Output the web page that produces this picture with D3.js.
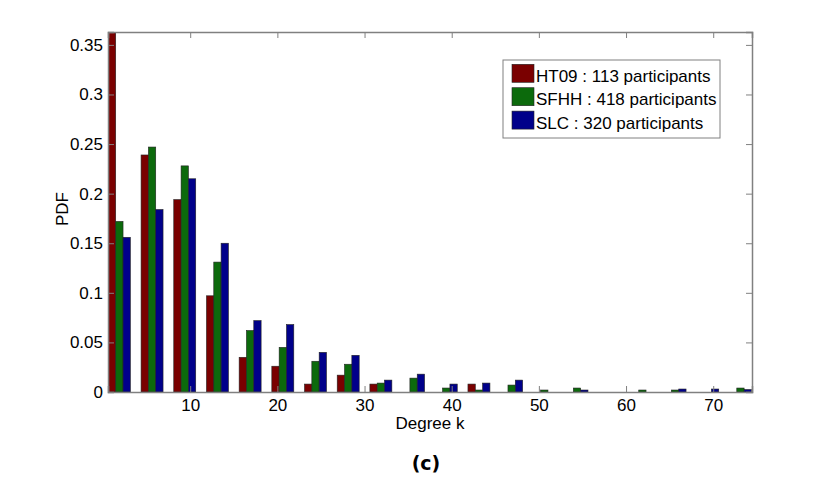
<!DOCTYPE html>
<html>
<head>
<meta charset="utf-8">
<script src="https://cdn.jsdelivr.net/npm/d3@7"></script>
<style>
  body { margin: 0; background: #fff; }
  text { font-family: "Liberation Sans", Arial, sans-serif; }
</style>
</head>
<body>
<div id="chart"></div>
<script>
// bin centres of the degree histogram (20 bins over 0..75)
var binCenters = [1.875, 5.625, 9.375, 13.125, 16.875, 20.625, 24.375, 28.125, 31.875, 35.625,
                  39.375, 43.125, 46.875, 50.625, 54.375, 58.125, 61.875, 65.625, 69.375, 73.125];

var ht09 = [0.37, 0.239, 0.194, 0.097, 0.035, 0.026, 0.008, 0.017, 0.008, 0,
            0, 0.008, 0, 0, 0, 0, 0, 0, 0, 0];
var sfhh = [0.172, 0.247, 0.228, 0.131, 0.062, 0.045, 0.031, 0.028, 0.009, 0.014,
            0.004, 0.002, 0.007, 0.002, 0.004, 0, 0.002, 0.002, 0, 0.004];
var slc  = [0.156, 0.184, 0.215, 0.150, 0.072, 0.068, 0.040, 0.037, 0.012, 0.018,
            0.008, 0.009, 0.012, 0, 0.002, 0, 0, 0.003, 0.003, 0.0025];

var seriesNames = ["HT09 : 113 participants", "SFHH : 418 participants", "SLC : 320 participants"];
var seriesColors = ["#7a0000", "#0c6a0c", "#00008a"];

var xTicks = [10, 20, 30, 40, 50, 60, 70];
var yTicks = [0, 0.05, 0.1, 0.15, 0.2, 0.25, 0.3, 0.35];

var margin = {top: 32, right: 78, bottom: 86, left: 108},
    width = 830 - margin.left - margin.right,
    height = 478 - margin.top - margin.bottom;

var x = d3.scaleLinear().domain([0.57, 74.45]).range([0, width]);
var y = d3.scaleLinear().domain([0, 0.363]).range([height, 0]);

var svg = d3.select("#chart").append("svg")
    .attr("width", 830)
    .attr("height", 478);

var g = svg.append("g")
    .attr("transform", "translate(" + margin.left + "," + margin.top + ")");

g.append("clipPath").attr("id", "plotclip")
  .append("rect").attr("width", width).attr("height", height);

// bars
var barW = 0.84;  // in data units
var series = [ht09, sfhh, slc];
var bars = g.append("g").attr("clip-path", "url(#plotclip)");
series.forEach(function(vals, si) {
  bars.selectAll(".b" + si)
    .data(vals.map(function(v, i) { return {k: binCenters[i], v: v}; }).filter(function(d) { return d.v > 0; }))
    .enter().append("rect")
      .attr("x", function(d) { return x(d.k + (si - 1) * barW - barW / 2); })
      .attr("width", x(barW) - x(0))
      .attr("y", function(d) { return y(d.v); })
      .attr("height", function(d) { return height - y(d.v); })
      .attr("fill", seriesColors[si])
      .attr("stroke", "#222")
      .attr("stroke-width", 0.6);
});

// axes, ticks inward like matlab
var axisColor = "#808080";
var axBottom = g.append("g").attr("transform", "translate(0," + height + ")")
    .call(d3.axisBottom(x).tickValues(xTicks).tickSize(-6).tickPadding(7).tickFormat(d3.format("d")));
var axTop = g.append("g")
    .call(d3.axisTop(x).tickValues(xTicks).tickSize(-6).tickFormat(""));
var axLeft = g.append("g")
    .call(d3.axisLeft(y).tickValues(yTicks).tickSize(-6).tickPadding(5).tickFormat(function(d) { return String(+d.toFixed(2)); }));
var axRight = g.append("g").attr("transform", "translate(" + width + ",0)")
    .call(d3.axisRight(y).tickValues(yTicks).tickSize(-6).tickFormat(""));

[axBottom, axTop, axLeft, axRight].forEach(function(a) {
  a.select(".domain").attr("stroke", axisColor).attr("stroke-width", 1.5);
  a.selectAll(".tick line").attr("stroke", axisColor).attr("stroke-width", 1);
  a.selectAll("text").attr("fill", "#000").style("font-size", "17px")
    .style("font-family", "'Liberation Sans', Arial, sans-serif");
});

// axis labels
svg.append("text")
    .attr("x", 430).attr("y", 429)
    .attr("text-anchor", "middle")
    .style("font-size", "17px")
    .text("Degree k");

svg.append("text")
    .attr("transform", "translate(68,209) rotate(-90)")
    .attr("text-anchor", "middle")
    .style("font-size", "17px")
    .text("PDF");

svg.append("text")
    .attr("x", 426).attr("y", 470)
    .attr("text-anchor", "middle")
    .style("font-family", "'DejaVu Sans', sans-serif")
    .style("font-weight", "bold")
    .style("font-size", "19px")
    .text("(c)");

// legend
var legend = svg.append("g").attr("transform", "translate(503,60)");
legend.append("rect")
    .attr("width", 217).attr("height", 78)
    .attr("fill", "#fff").attr("stroke", axisColor).attr("stroke-width", 1);
seriesNames.forEach(function(name, i) {
  var row = legend.append("g").attr("transform", "translate(0," + (4.3 + i * 23.4) + ")");
  row.append("rect")
      .attr("x", 9).attr("y", 0)
      .attr("width", 22).attr("height", 18)
      .attr("fill", seriesColors[i]).attr("stroke", "#222").attr("stroke-width", 0.6);
  row.append("text")
      .attr("x", 33).attr("y", 17.5)
      .style("font-size", "17px")
      .text(name);
});
</script>
</body>
</html>
